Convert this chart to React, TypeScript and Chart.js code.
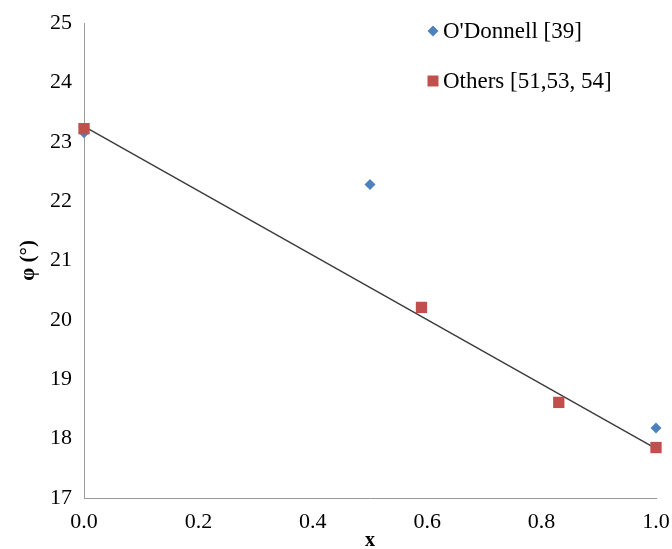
import React, { useEffect, useRef } from 'react';
import { Chart, registerables } from 'chart.js';

Chart.register(...registerables);

// ---- data ----
const odonnellLabel = "O'Donnell [39]";
const odonnellX = [0.0, 0.5, 1.0];
const odonnellY = [23.15, 22.28, 18.18];

const othersLabel = 'Others [51,53, 54]';
const othersX = [0.0, 0.59, 0.83, 1.0];
const othersY = [23.22, 20.21, 18.61, 17.85];

const trendX = [0.0, 1.0];
const trendY = [23.26, 17.83];

const xMin = 0;
const xMax = 1;
const xStep = 0.2;
const yMin = 17;
const yMax = 25;
const yStep = 1;

const xTitle = 'x';
const yTitle = 'φ (°)';

const BLUE = '#4F81BD';
const RED = '#C0504D';
const SERIF = "'Liberation Serif', 'Times New Roman', serif";

const toPoints = (xs: number[], ys: number[]) => xs.map((x, i) => ({ x, y: ys[i] }));

const legendPlugin = {
  id: 'customLegend',
  afterDraw(chart: any) {
    const ctx = chart.ctx as CanvasRenderingContext2D;
    const entries = [
      { label: odonnellLabel, color: BLUE, shape: 'diamond', y: 31 },
      { label: othersLabel, color: RED, shape: 'square', y: 81 },
    ];
    const mx = 433;
    const tx = 443;
    ctx.save();
    entries.forEach((e) => {
      ctx.fillStyle = e.color;
      ctx.beginPath();
      if (e.shape === 'diamond') {
        const r = 5.5;
        ctx.moveTo(mx - r, e.y);
        ctx.lineTo(mx, e.y - r);
        ctx.lineTo(mx + r, e.y);
        ctx.lineTo(mx, e.y + r);
        ctx.closePath();
      } else {
        const s = 5.5;
        ctx.rect(mx - s, e.y - s, 2 * s, 2 * s);
      }
      ctx.fill();
      ctx.fillStyle = '#000';
      ctx.font = `23px ${SERIF}`;
      ctx.textAlign = 'left';
      ctx.textBaseline = 'middle';
      ctx.fillText(e.label, tx, e.y + 1);
    });
    ctx.restore();
  },
};

export default function App() {
  const canvasRef = useRef<HTMLCanvasElement | null>(null);

  useEffect(() => {
    if (!canvasRef.current) return;
    const chart = new Chart(canvasRef.current, {
      type: 'scatter',
      data: {
        datasets: [
          {
            label: othersLabel,
            data: toPoints(othersX, othersY),
            pointStyle: 'rect',
            pointRadius: 8,
            pointHoverRadius: 8,
            backgroundColor: RED,
            borderColor: RED,
            borderWidth: 0,
            showLine: false,
            clip: false,
            order: 1,
          } as any,
          {
            label: odonnellLabel,
            data: toPoints(odonnellX, odonnellY),
            pointStyle: 'rectRot',
            pointRadius: 5.5,
            pointHoverRadius: 5.5,
            backgroundColor: BLUE,
            borderColor: BLUE,
            borderWidth: 0,
            showLine: false,
            clip: false,
            order: 2,
          } as any,
          {
            label: 'trend',
            data: toPoints(trendX, trendY),
            showLine: true,
            pointRadius: 0,
            borderColor: '#3a3a3a',
            borderWidth: 1.4,
            backgroundColor: '#3a3a3a',
            clip: false,
            order: 3,
          } as any,
        ],
      },
      options: {
        animation: false,
        responsive: false,
        layout: { padding: { top: 23, right: 16, left: 0, bottom: 0 } },
        plugins: {
          legend: { display: false },
          tooltip: { enabled: false },
          title: { display: false },
        },
        scales: {
          x: {
            type: 'linear',
            min: xMin,
            max: xMax,
            grid: { display: false, drawTicks: false },
            border: { display: true, color: '#9a9a9a', width: 1 },
            ticks: {
              stepSize: xStep,
              padding: 11,
              color: '#000',
              font: { family: SERIF, size: 22 },
              maxRotation: 0,
              callback: (v: any) => Number(v).toFixed(1),
            },
            title: {
              display: true,
              text: xTitle,
              color: '#000',
              font: { family: SERIF, size: 20, weight: 'bold', lineHeight: 1 },
              padding: { top: 0, bottom: -2 },
            },
            afterFit: (scale: any) => {
              scale.height = 51;
              scale.paddingLeft = 0;
              scale.paddingRight = 0;
            },
          },
          y: {
            type: 'linear',
            min: yMin,
            max: yMax,
            grid: { display: false, drawTicks: false },
            border: { display: true, color: '#9a9a9a', width: 1 },
            ticks: {
              stepSize: yStep,
              padding: 12,
              color: '#000',
              font: { family: SERIF, size: 22 },
            },
            title: {
              display: true,
              text: yTitle,
              color: '#000',
              font: { family: SERIF, size: 21, weight: 'bold' },
              padding: { top: 16, bottom: 0 },
            },
            afterFit: (scale: any) => {
              scale.width = 84;
              scale.paddingTop = 0;
              scale.paddingBottom = 0;
            },
          },
        },
      } as any,
      plugins: [legendPlugin],
    });
    return () => chart.destroy();
  }, []);

  return (
    <div style={{ position: 'fixed', left: 0, top: 0, width: 672, height: 549, background: '#fff' }}>
      <canvas ref={canvasRef} width={672} height={549} style={{ display: 'block' }} />
    </div>
  );
}
